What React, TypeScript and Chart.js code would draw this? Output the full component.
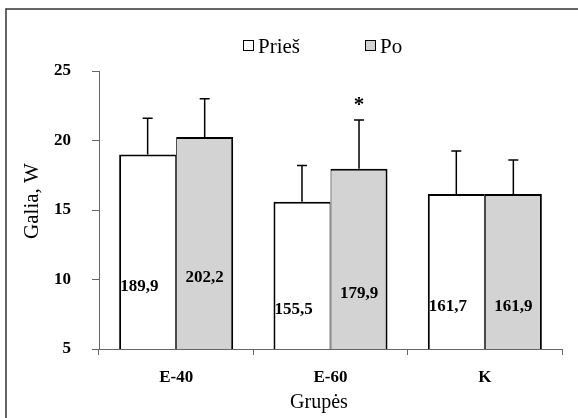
import React, { useEffect, useRef } from 'react';
import { Chart, registerables } from 'chart.js';
Chart.register(...registerables);

const categories = ['E-40', 'E-60', 'K'];
const seriesNames = ['Prieš', 'Po'];
const priesValues = [19.0, 15.6, 16.15];
const poValues = [20.25, 17.97, 16.15];
const priesErrors = [2.6, 2.6, 3.1];
const poErrors = [2.75, 3.5, 2.45];
const priesLabels = ['189,9', '155,5', '161,7'];
const poLabels = ['202,2', '179,9', '161,9'];
const poSignificance = ['', '*', ''];
const yMin = 5;
const yMax = 25;
const yStep = 5;
const yTitle = 'Galia, W';
const xTitle = 'Grupės';

const SERIF = "'Times New Roman', 'Liberation Serif', serif";
const PO_FILL = '#d3d3d3';
const AXIS_COLOR = '#666';

const overlay = {
  id: 'overlay',
  afterDatasetsDraw(chart: any) {
    const ctx = chart.ctx;
    const yScale = chart.scales.y;
    const vals = [priesValues, poValues];
    const errs = [priesErrors, poErrors];
    const labels = [priesLabels, poLabels];
    chart.data.datasets.forEach((_ds: any, di: number) => {
      const meta = chart.getDatasetMeta(di);
      meta.data.forEach((bar: any, i: number) => {
        const { x, y: top, base, width } = bar.getProps(['x', 'y', 'base', 'width'], true);
        const errY = yScale.getPixelForValue(vals[di][i] + errs[di][i]);
        ctx.save();
        ctx.strokeStyle = '#000';
        ctx.lineWidth = 1.5;
        ctx.beginPath();
        ctx.moveTo(x, top);
        ctx.lineTo(x, errY);
        ctx.moveTo(x - 5, errY);
        ctx.lineTo(x + 5, errY);
        ctx.stroke();
        ctx.font = `bold 17px ${SERIF}`;
        ctx.fillStyle = '#000';
        ctx.textBaseline = 'middle';
        const my = (top + base) / 2;
        if (di === 0) {
          ctx.textAlign = 'left';
          ctx.fillText(labels[di][i], x - width / 2 + 1, my);
        } else {
          ctx.textAlign = 'center';
          ctx.fillText(labels[di][i], x, my);
        }
        if (di === 1 && poSignificance[i]) {
          ctx.font = `bold 21px ${SERIF}`;
          ctx.textAlign = 'center';
          ctx.textBaseline = 'alphabetic';
          ctx.fillText(poSignificance[i], x, errY - 9);
        }
        ctx.restore();
      });
    });
  },
  afterDraw(chart: any) {
    const ctx = chart.ctx;
    ctx.save();
    // frame
    ctx.strokeStyle = '#333';
    ctx.lineWidth = 1.5;
    ctx.beginPath();
    ctx.moveTo(6, chart.height);
    ctx.lineTo(6, 9);
    ctx.lineTo(chart.width, 9);
    ctx.stroke();
    // legend
    const items = [
      { text: seriesNames[0], fill: '#fff', bx: 243, tx: 258 },
      { text: seriesNames[1], fill: PO_FILL, bx: 365, tx: 380 },
    ];
    ctx.font = `21px ${SERIF}`;
    ctx.textBaseline = 'middle';
    ctx.textAlign = 'left';
    items.forEach((it) => {
      ctx.fillStyle = it.fill;
      ctx.fillRect(it.bx, 40, 10, 10);
      ctx.strokeStyle = '#000';
      ctx.lineWidth = 1;
      ctx.strokeRect(it.bx + 0.5, 40.5, 10, 10);
      ctx.fillStyle = '#000';
      ctx.fillText(it.text, it.tx, 47);
    });
    // y title
    ctx.save();
    ctx.translate(32, 201);
    ctx.rotate(-Math.PI / 2);
    ctx.textAlign = 'center';
    ctx.textBaseline = 'middle';
    ctx.font = `21px ${SERIF}`;
    ctx.fillText(yTitle, 0, 0);
    ctx.restore();
    // x title
    ctx.textAlign = 'center';
    ctx.textBaseline = 'alphabetic';
    ctx.font = `20px ${SERIF}`;
    ctx.fillText(xTitle, 319, 408);
    ctx.restore();
  },
};

export default function App() {
  const ref = useRef<HTMLCanvasElement | null>(null);
  useEffect(() => {
    if (!ref.current) return;
    const chart = new Chart(ref.current, {
      type: 'bar',
      data: {
        labels: categories,
        datasets: [
          {
            label: seriesNames[0],
            data: priesValues,
            backgroundColor: '#ffffff',
            borderColor: '#000',
            borderWidth: { top: 2, left: 2, bottom: 2, right: 1 },
            borderSkipped: false,
          },
          {
            label: seriesNames[1],
            data: poValues,
            backgroundColor: PO_FILL,
            borderColor: '#000',
            borderWidth: { top: 2, left: 1, bottom: 2, right: 2 },
            borderSkipped: false,
          },
        ],
      },
      options: {
        responsive: false,
        animation: false,
        devicePixelRatio: 1,
        layout: { padding: { left: 0, right: 16, top: 71, bottom: 0 } },
        datasets: { bar: { categoryPercentage: 0.739, barPercentage: 1 } },
        plugins: { legend: { display: false }, tooltip: { enabled: false } },
        scales: {
          x: {
            grid: { drawOnChartArea: false, drawTicks: true, tickLength: 6, color: AXIS_COLOR, offset: true },
            border: { display: true, color: AXIS_COLOR, width: 1 },
            ticks: { color: '#000', font: { family: SERIF, size: 17, weight: 'bold' }, padding: 12 },
            afterFit: (s: any) => { s.height = 69; },
          },
          y: {
            min: yMin,
            max: yMax,
            grid: { drawOnChartArea: false, drawTicks: true, tickLength: 7, color: AXIS_COLOR },
            border: { display: true, color: AXIS_COLOR, width: 1 },
            ticks: { stepSize: yStep, color: '#000', font: { family: SERIF, size: 17, weight: 'bold' }, padding: 21 },
            afterFit: (s: any) => { s.width = 99; },
          },
        },
      },
      plugins: [overlay],
    } as any);
    return () => chart.destroy();
  }, []);
  return (
    <div style={{ position: 'fixed', left: 0, top: 0, width: 578, height: 418, background: '#fff' }}>
      <canvas ref={ref} width={578} height={418} style={{ display: 'block' }} />
    </div>
  );
}
